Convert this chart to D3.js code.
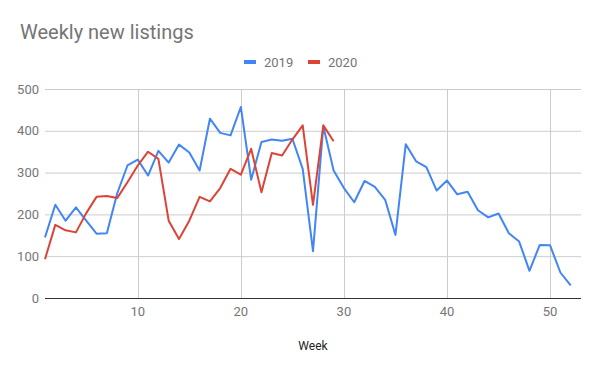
<!DOCTYPE html>
<html>
<head>
<meta charset="utf-8">
<script src="https://cdn.jsdelivr.net/npm/d3@7"></script>
<style>
  body { margin: 0; background: #fff; }
  svg { font-family: Roboto, Arial, sans-serif; }
</style>
</head>
<body>
<div id="chart"></div>
<script>
// values
var weeks2019 = d3.range(1, 53);
var listings2019 = [145, 223, 185, 217, 185, 154, 155, 250, 317, 331,
                    293, 352, 324, 367, 348, 305, 429, 395, 389, 457,
                    283, 373, 379, 376, 381, 309, 112, 411, 305, 263,
                    229, 280, 266, 235, 151, 368, 327, 313, 257, 281,
                    248, 254, 210, 193, 202, 155, 135, 65, 127, 126,
                    61, 30];
var weeks2020 = d3.range(1, 30);
var listings2020 = [93, 175, 162, 157, 203, 242, 244, 239, 277, 317,
                    350, 333, 185, 141, 185, 242, 231, 263, 309, 295,
                    357, 253, 347, 341, 379, 413, 223, 413, 375];
var seriesNames = ["2019", "2020"];
var seriesColors = ["#4285f4", "#db4437"];
var yTicks = [0, 100, 200, 300, 400, 500];
var xTicks = [10, 20, 30, 40, 50];

var width = 600, height = 371;
var margin = {top: 89, right: 19, bottom: 73, left: 45};

var svg = d3.select("#chart").append("svg")
    .attr("width", width).attr("height", height);

var x = d3.scaleLinear().domain([1, 53]).range([margin.left, width - margin.right]);
var y = d3.scaleLinear().domain([0, 500]).range([height - margin.bottom, margin.top]);

// gridlines
svg.append("g").selectAll("line").data(yTicks.slice(1)).enter().append("line")
    .attr("x1", x(1)).attr("x2", x(53))
    .attr("y1", function(d) { return y(d) + 0.5; })
    .attr("y2", function(d) { return y(d) + 0.5; })
    .attr("stroke", "#cccccc");
svg.append("g").selectAll("line").data(xTicks).enter().append("line")
    .attr("x1", function(d) { return Math.round(x(d)) + 0.5; })
    .attr("x2", function(d) { return Math.round(x(d)) + 0.5; })
    .attr("y1", y(500)).attr("y2", y(0))
    .attr("stroke", "#cccccc");

// axes labels
svg.append("g").selectAll("text").data(yTicks).enter().append("text")
    .attr("x", margin.left - 6)
    .attr("y", function(d) { return y(d) + 4.5; })
    .attr("text-anchor", "end")
    .style("font-size", "13px").style("fill", "#757575")
    .text(function(d) { return d; });
svg.append("g").selectAll("text").data(xTicks).enter().append("text")
    .attr("x", function(d) { return x(d); })
    .attr("y", y(0) + 18)
    .attr("text-anchor", "middle")
    .style("font-size", "13px").style("fill", "#757575")
    .text(function(d) { return d; });

var line = d3.line()
    .x(function(d) { return x(d[0]); })
    .y(function(d) { return y(d[1]); });

svg.append("path")
    .datum(d3.zip(weeks2019, listings2019))
    .attr("d", line).attr("fill", "none")
    .attr("stroke", seriesColors[0]).attr("stroke-width", 2)
    .attr("stroke-linejoin", "round");
svg.append("path")
    .datum(d3.zip(weeks2020, listings2020))
    .attr("d", line).attr("fill", "none")
    .attr("stroke", seriesColors[1]).attr("stroke-width", 2)
    .attr("stroke-linejoin", "round");

// baseline
svg.append("line")
    .attr("x1", x(1)).attr("x2", x(53))
    .attr("y1", y(0) + 0.5).attr("y2", y(0) + 0.5)
    .attr("stroke", "#333333");

// title
svg.append("text")
    .attr("x", 20).attr("y", 39)
    .style("font-size", "20px").style("fill", "#757575")
    .text("Weekly new listings");

// legend
var legend = svg.append("g").selectAll("g").data(seriesNames).enter().append("g")
    .attr("transform", function(d, i) { return "translate(" + (244 + i * 64) + ",62)"; });
legend.append("rect")
    .attr("x", 0).attr("y", -2).attr("width", 12).attr("height", 4)
    .attr("fill", function(d, i) { return seriesColors[i]; });
legend.append("text")
    .attr("x", 20).attr("y", 5)
    .style("font-size", "13px").style("fill", "#757575")
    .text(function(d) { return d; });

// x axis title
svg.append("text")
    .attr("x", (x(1) + x(53)) / 2).attr("y", 350)
    .attr("text-anchor", "middle")
    .style("font-size", "12px").style("fill", "#222222")
    .text("Week");
</script>
</body>
</html>
